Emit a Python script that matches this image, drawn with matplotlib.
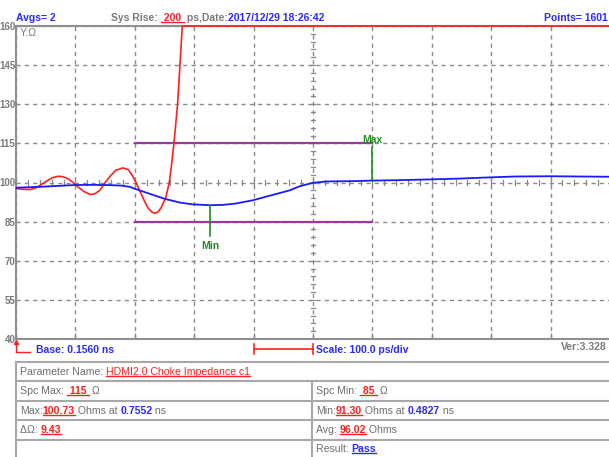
import matplotlib
matplotlib.use("Agg")
import matplotlib.pyplot as plt
from matplotlib.lines import Line2D
import numpy as np

plt.rcParams['font.family'] = ['Liberation Sans', 'DejaVu Sans']

# ---------------- data ----------------
blue_t = [0.156, 0.180, 0.201, 0.227, 0.252, 0.281, 0.314, 0.334, 0.348, 0.356, 0.382,
          0.407, 0.432, 0.454, 0.4827, 0.503, 0.525, 0.555, 0.584, 0.617, 0.634, 0.656,
          0.680, 0.718, 0.7552, 0.802, 0.856, 0.903, 0.946, 0.996, 1.055, 1.105, 1.156]
blue_z = [98.0, 98.2, 98.4, 98.7, 99.0, 99.1, 99.0, 98.8, 98.3, 97.6, 95.6,
          93.7, 92.3, 91.6, 91.3, 91.4, 91.9, 93.2, 95.0, 97.0, 98.6, 99.9,
          100.4, 100.5, 100.73, 100.9, 101.2, 101.5, 101.9, 102.3, 102.4, 102.3, 102.2]

red_t = [0.156, 0.166, 0.180, 0.190, 0.200, 0.210, 0.218, 0.227, 0.235, 0.244, 0.252,
         0.260, 0.270, 0.281, 0.289, 0.297, 0.306, 0.314, 0.324, 0.336, 0.345, 0.351,
         0.358, 0.365, 0.372, 0.378, 0.385, 0.390, 0.395, 0.400, 0.404, 0.408, 0.411,
         0.414, 0.418, 0.422, 0.425, 0.428, 0.430, 0.432, 0.434, 0.436, 1.156]
red_z = [97.7, 97.4, 97.3, 98.0, 99.4, 100.9, 101.9, 102.4, 102.2, 101.4, 100.0,
         98.4, 96.6, 95.4, 95.7, 97.0, 100.0, 102.3, 104.7, 105.6, 104.9, 103.0,
         100.0, 96.5, 93.0, 90.3, 88.6, 88.2, 88.7, 90.2, 92.2, 94.0, 97.0,
         100.0, 107.0, 115.3, 122.6, 130.0, 137.5, 145.0, 152.5, 160.0, 160.0]

spec_max = 115
spec_min = 85
spec_t = [0.356, 0.7552]
max_t, max_z = 0.7552, 100.73
min_t, min_z = 0.4827, 91.30
y_ticks = [40, 55, 70, 85, 100, 115, 130, 145, 160]
base_ns = 0.156
div_ns = 0.1

# ---------------- figure ----------------
W, H = 609, 457
fig = plt.figure(figsize=(W / 100, H / 100), dpi=100)
fig.patch.set_facecolor('white')

def fx(x):
    return x / W

def fy(y):
    return 1 - y / H

ax = fig.add_axes([fx(16), fy(339), (610 - 16) / W, (339 - 26) / H])
ax.set_xlim(base_ns, base_ns + 10 * div_ns)
ax.set_ylim(40, 160)
ax.set_xticks([base_ns + k * div_ns for k in range(11)])
ax.set_yticks(y_ticks)
ax.set_yticklabels([str(v) for v in y_ticks])
ax.set_xticklabels([])
ax.grid(True, color='#8a8a8a', linestyle=(0, (3, 3)), linewidth=1.0)
ax.set_axisbelow(True)
ax.tick_params(axis='y', length=0, pad=0.5, labelsize=7, labelcolor='#7a7a7a')
for lab in ax.get_yticklabels():
    lab.set_fontweight('bold')
ax.tick_params(axis='x', direction='in', length=4, color='#8a8a8a', width=1)
for s in ['left', 'bottom', 'top']:
    ax.spines[s].set_color('#8f8f8f')
    ax.spines[s].set_linewidth(1.5)
ax.spines['right'].set_visible(False)

# graticule center ticks
ct = base_ns + 5 * div_ns
xs_minor = np.arange(base_ns, base_ns + 10 * div_ns + 1e-9, div_ns / 5)
for xv in xs_minor:
    ax.plot([xv, xv], [99.1, 100.9], color='#8a8a8a', lw=0.9)
for yv in np.arange(40, 160.1, 3):
    ax.plot([ct - 0.0035, ct + 0.0035], [yv, yv], color='#8a8a8a', lw=0.9)

# spec lines
ax.plot(spec_t, [spec_max, spec_max], color='#9b3a9b', lw=1.6)
ax.plot(spec_t, [spec_min, spec_min], color='#9b3a9b', lw=1.6)

# curves
ax.plot(red_t, red_z, color='#ff2020', lw=1.2, clip_on=False, zorder=4)
ax.plot(blue_t, blue_z, color='#1a1aff', lw=1.3, zorder=5)

# markers
green = '#1f8f1f'
ax.plot([max_t, max_t], [max_z, 113.8], color=green, lw=1.2, zorder=6)
ax.text(max_t, 116.3, 'Max', color=green, fontsize=7.5, fontweight='bold',
        ha='center', va='center')
ax.plot([min_t, min_t], [min_z, 79.5], color=green, lw=1.2, zorder=6)
ax.text(min_t, 75.8, 'Min', color=green, fontsize=7.5, fontweight='bold',
        ha='center', va='center')

ax.text(fx(20), fy(33), 'Y:Ω', transform=fig.transFigure, color='#7a7a7a',
        fontsize=7.5, va='center', ha='left')

# ---------------- text helpers ----------------
fig.canvas.draw()
renderer = fig.canvas.get_renderer()

def pieces(x, y, parts, size):
    for s, color, weight, ul in parts:
        t = fig.text(fx(x), fy(y), s, color=color, fontweight=weight, fontsize=size,
                     va='center', ha='left')
        bb = t.get_window_extent(renderer=renderer)
        if ul:
            yl = (bb.y0 + 1.0) / H
            fig.add_artist(Line2D([bb.x0 / W, bb.x1 / W], [yl, yl], color=color, lw=1.0))
        x += bb.width

blue_t_c = '#2a2aff'
red_c = '#ff2020'
gray_c = '#7a7a7a'

# header
pieces(16, 18, [('Avgs= 2', blue_t_c, 'bold', False)], 7.5)
pieces(111, 18, [('Sys Rise: ', gray_c, 'bold', False),
                 (' 200 ', red_c, 'bold', True),
                 (' ps,Date:', gray_c, 'bold', False),
                 ('2017/12/29 18:26:42', blue_t_c, 'bold', False)], 7.5)
fig.text(fx(608), fy(18), 'Points= 1601', color=blue_t_c, fontweight='bold',
         fontsize=7.5, ha='right', va='center')

# below plot
fig.add_artist(Line2D([fx(16), fx(16)], [fy(352), fy(342)], color=red_c, lw=1.0))
fig.add_artist(Line2D([fx(16), fx(30)], [fy(352), fy(352)], color=red_c, lw=1.0))
fig.add_artist(Line2D([fx(16)], [fy(342)], marker='^', markersize=3, color=red_c, lw=0))
pieces(36, 350, [('Base: 0.1560 ns', blue_t_c, 'bold', False)], 7.5)
fig.add_artist(Line2D([fx(254), fx(313)], [fy(349), fy(349)], color=red_c, lw=1.2))
fig.add_artist(Line2D([fx(254), fx(254)], [fy(344), fy(354)], color=red_c, lw=1.2))
fig.add_artist(Line2D([fx(313), fx(313)], [fy(344), fy(354)], color=red_c, lw=1.2))
pieces(316, 350, [('Scale: 100.0 ps/div', blue_t_c, 'bold', False)], 7.5)
fig.text(fx(607), fy(347), 'Ver:3.328', color=gray_c, fontweight='bold',
         fontsize=7.5, ha='right', va='center')

# table
tc = '#a8a8a8'
def hline(y, x0=15.5, x1=612):
    fig.add_artist(Line2D([fx(x0), fx(x1)], [fy(y), fy(y)], color=tc, lw=1.5))
def vline(x, y0, y1):
    fig.add_artist(Line2D([fx(x), fx(x)], [fy(y0), fy(y1)], color=tc, lw=1.5))

for yy in [362, 381, 401, 420, 439.5]:
    hline(yy)
vline(15.5, 362, 458)
vline(312, 381, 458)

ts = 7.6
lab = '#6e6e6e'
pieces(20, 372, [('Parameter Name: ', lab, 'normal', False),
                 ('HDMI2.0 Choke Impedance c1', red_c, 'normal', True)], ts)
pieces(20, 391, [('Spc Max: ', lab, 'normal', False),
                 (' 115 ', red_c, 'bold', True),
                 (' Ω', lab, 'normal', False)], ts)
pieces(316, 391, [('Spc Min: ', lab, 'normal', False),
                  (' 85 ', red_c, 'bold', True),
                  (' Ω', lab, 'normal', False)], ts)
pieces(20, 411, [('Max:', lab, 'normal', False),
                 ('100.73', red_c, 'bold', True),
                 (' Ohms at ', lab, 'normal', False),
                 ('0.7552', blue_t_c, 'bold', False),
                 (' ns', lab, 'normal', False)], ts)
pieces(316, 411, [('Min:', lab, 'normal', False),
                  ('91.30', red_c, 'bold', True),
                  (' Ohms at ', lab, 'normal', False),
                  ('0.4827', blue_t_c, 'bold', False),
                  (' ns', lab, 'normal', False)], ts)
pieces(20, 430, [('ΔΩ: ', lab, 'normal', False),
                 ('9.43', red_c, 'bold', True)], ts)
pieces(316, 430, [('Avg: ', lab, 'normal', False),
                  ('96.02', red_c, 'bold', True),
                  (' Ohms', lab, 'normal', False)], ts)
pieces(316, 449, [('Result: ', lab, 'normal', False),
                  ('Pass', blue_t_c, 'bold', True)], ts)

fig.savefig('out.png', dpi=100)
